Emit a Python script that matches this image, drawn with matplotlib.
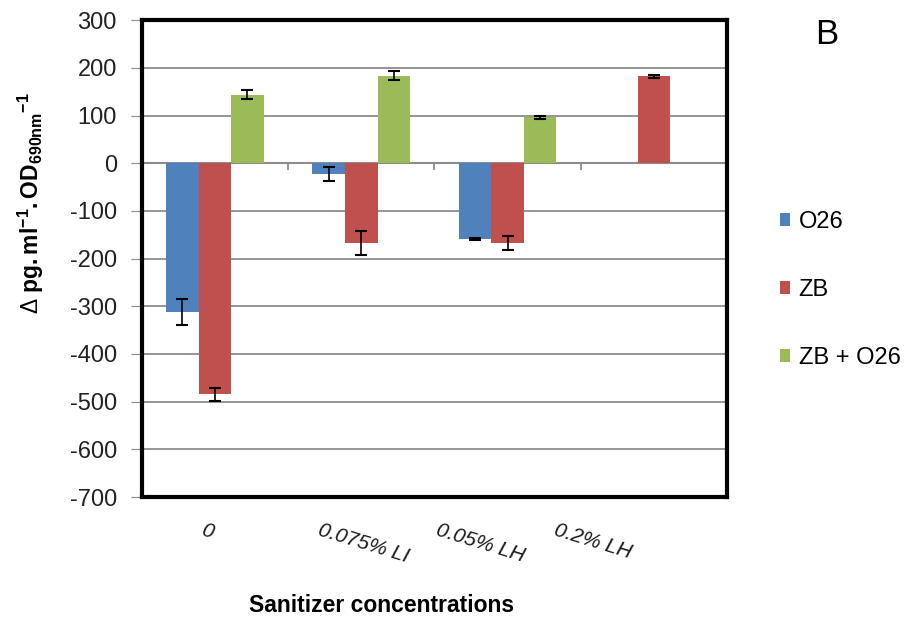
import matplotlib
matplotlib.use('Agg')
import matplotlib.pyplot as plt
import numpy as np

plt.rcParams['font.family'] = ['Liberation Sans', 'DejaVu Sans']
plt.rcParams['axes.unicode_minus'] = False
plt.rcParams['mathtext.fontset'] = 'custom'
plt.rcParams['mathtext.rm'] = 'Liberation Sans'
plt.rcParams['mathtext.bf'] = 'Liberation Sans:bold'
plt.rcParams['mathtext.it'] = 'Liberation Sans:italic'

# data
categories = ['0', '0.075% LI', '0.05% LH', '0.2% LH']
series = ['O26', 'ZB', 'ZB + O26']
o26 = [-312, -22, -158, np.nan]
o26_err = [28, 15, 2, np.nan]
zb = [-485, -167, -167, 182]
zb_err = [14, 25, 14, 3]
zb_o26 = [144, 184, 96, np.nan]
zb_o26_err = [9, 9, 4, np.nan]

colors = ['#4F81BD', '#C0504D', '#9BBB59']
values = [o26, zb, zb_o26]
errors = [o26_err, zb_err, zb_o26_err]

fig = plt.figure(figsize=(9.15, 6.32), dpi=100)
ax = fig.add_axes([0.155, 0.2136, 0.6395, 0.7544])

x = np.arange(len(categories))
w = 1 / 4.5
for i, (vals, errs, col, name) in enumerate(zip(values, errors, colors, series)):
    ax.bar(x + (i - 1) * w, vals, w, color=col, label=name, zorder=3,
           yerr=errs, capsize=4,
           error_kw=dict(ecolor='black', elinewidth=1.2, capthick=1.5, zorder=4))

ax.set_xlim(-0.5, len(categories) - 0.5)
ax.set_ylim(-700, 300)
ax.set_yticks(np.arange(-700, 301, 100))
ax.tick_params(axis='y', labelsize=17, length=8, color='#888888', pad=10,
               labelcolor='#222222')
ax.yaxis.grid(True, color='#8c8c8c', linewidth=1.3, zorder=0)
ax.set_axisbelow(True)

# horizontal category axis crossing at zero, with marks between groups
ax.axhline(0, color='#8c8c8c', linewidth=1.5, zorder=2)
ax.vlines(x[:-1] + 0.5, -14, 0, color='#8c8c8c', linewidth=1.3, zorder=2)
ax.set_xticks([])

for sp in ax.spines.values():
    sp.set_color('black')
    sp.set_linewidth(3)

# category labels (rotated, italic) below the frame
label_pos = [0.111, 0.379, 0.579, 0.771]
for px, lab in zip(label_pos, categories):
    ax.text(px, -0.05, lab, transform=ax.transAxes, rotation=-17,
            ha='center', va='top', fontsize=15, style='italic', color='#1a1a1a')

fig.text(31 / 915, 1 - 203 / 632,
         r'$\Delta\ \mathbf{pg{.}ml^{-1}{.}OD_{690nm}}^{\mathbf{-1}}$',
         rotation=90, ha='center', va='center', fontsize=16.5)

fig.text(382 / 915, 1 - 605 / 632, 'Sanitizer concentrations',
         ha='center', va='center', fontsize=16.5, fontweight='bold')

fig.text(827 / 915, 1 - 35 / 632, 'B', ha='center', va='center', fontsize=25)

fig.legend(loc='center left', bbox_to_anchor=(0.852, 0.541), frameon=False,
           fontsize=17, handlelength=0.46, handleheight=0.46, handletextpad=0.35,
           labelspacing=1.95, borderpad=0, borderaxespad=0)

fig.savefig('out.png', dpi=100)
